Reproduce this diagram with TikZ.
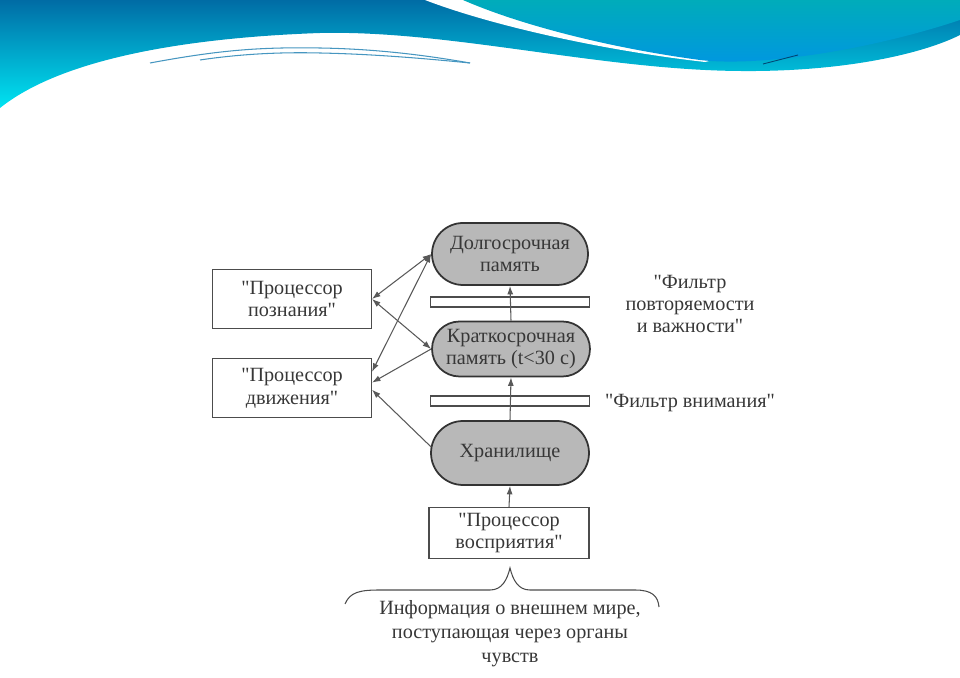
\documentclass[tikz,border=0pt]{standalone}
\usepackage{fontspec}
\setmainfont{Liberation Serif}[Ligatures=TeXOff]
\usepackage{tikz}
\usetikzlibrary{calc}
\usetikzlibrary{shapes.misc}
\usetikzlibrary{arrows.meta}
\usepackage{xcolor}

\definecolor{wavetop}{RGB}{0,108,165}
\definecolor{wavebottom}{RGB}{0,228,242}
\definecolor{blobtop}{RGB}{0,172,186}
\definecolor{blobbottom}{RGB}{0,150,226}
\definecolor{thinline}{RGB}{70,150,192}
\definecolor{ink}{RGB}{55,55,55}

\tikzset{
    memory/.style={rounded rectangle, draw=black!80, line width=1pt, fill=black!28,
        align=center, inner sep=0pt, text=ink},
    proc/.style={rectangle, draw=black!70, line width=0.6pt, align=center,
        minimum width=3.18cm, minimum height=1.18cm, inner sep=0pt, text=ink},
    filterbar/.style={rectangle, draw=black!70, line width=0.6pt,
        minimum width=3.18cm, minimum height=0.2cm, inner sep=0pt},
    link/.style={draw=black!65, line width=0.6pt},
    arr/.style={link, -{Latex[length=1.7mm,width=1.2mm]}},
    dbl/.style={link, {Latex[length=1.7mm,width=1.2mm]}-{Latex[length=1.7mm,width=1.2mm]}},
}

\begin{document}
\begin{tikzpicture}[x=0.02cm, y=-0.02cm, font=\fontsize{11.5}{13}\selectfont]
    \useasboundingbox (0,0) rectangle (960,678);

    % 1. Header waves
    \shade[top color=wavetop, bottom color=wavebottom]
        (0,0) -- (960,0) -- (960,35)
        .. controls (920,55) and (840,72) .. (740,71)
        .. controls (600,70) and (450,30) .. (320,33)
        .. controls (180,38) and (60,60) .. (0,108) -- cycle;
    \fill[white] (425,0) .. controls (490,25) and (600,50) .. (705,62) -- (960,0) -- cycle;
    \shade[top color=blobtop, bottom color=blobbottom]
        (463,0) .. controls (520,25) and (610,48) .. (700,60)
        .. controls (760,67) and (870,50) .. (960,20) -- (960,0) -- cycle;
    \draw[draw={rgb,255:red,0;green,70;blue,115}, line width=0.5pt] (763,64) -- (798,55);

    % 2. Thin decorative strokes under the wave
    \draw[thinline, line width=0.6pt] (150,63) .. controls (220,50) and (260,47) .. (320,48)
        .. controls (380,49) and (430,56) .. (470,63);
    \draw[thinline, line width=0.6pt] (200,60) .. controls (240,54) and (280,52) .. (320,53)
        .. controls (370,54) and (420,58) .. (470,63);

    % 3. Memory blocks
    \node[memory, minimum width=3.12cm, minimum height=1.24cm] (dolg) at (510,254)
        {Долгосрочная\\память};
    \node[memory, minimum width=3.16cm, minimum height=1.10cm] (krat) at (511,349)
        {Краткосрочная\\память (t<30 с)};
    \node[memory, minimum width=3.16cm, minimum height=1.28cm] (hran) at (510,453)
        {Хранилище};

    % 4. Filters
    \node[filterbar] (filtrA) at (510,302) {};
    \node[filterbar] (filtrB) at (510,401) {};
    \node[text=ink, align=center, font=\fontsize{11.5}{12.6}\selectfont] (filtrAtext) at (690,304)
        {"Фильтр\\повторяемости\\и важности"};
    \node[text=ink] (filtrBtext) at (690,403) {"Фильтр внимания"};

    % 5. Processors
    \node[proc] (pozn) at (292,299) {"Процессор\\познания"};
    \node[proc] (dvizh) at (292,388) {"Процессор\\движения"};
    \node[proc, minimum width=3.2cm, minimum height=1.02cm] (vospr) at (509,533)
        {"Процессор\\восприятия"};

    % 6. Vertical flow
    \draw[arr] (vospr.north) -- (hran.south);
    \draw[arr] (hran.north) -- (krat.south);
    \draw[arr] (krat.north) -- (dolg.south);

    % 7. Links to the processors
    \draw[dbl] (pozn.east) -- (dolg.west);
    \draw[dbl] (pozn.east) -- (krat.west);
    \draw[dbl] ($(dvizh.north east)!0.23!(dvizh.south east)$) -- (dolg.west);
    \draw[arr] (krat.west) -- ($(dvizh.north east)!0.41!(dvizh.south east)$);
    \draw[arr] ($(hran.west)+(1,-6)$) -- ($(dvizh.north east)!0.53!(dvizh.south east)$);

    % 8. Brace and the incoming information
    \draw[black!70, line width=0.6pt] (345,604) .. controls (350,592) and (360,590) .. (380,590)
        -- (490,590) .. controls (502,590) and (507,580) .. (510,568)
        .. controls (513,580) and (518,590) .. (530,590) -- (635,590)
        .. controls (652,590) and (658,596) .. (659,607);
    \node[text=ink, align=center, font=\fontsize{11.5}{13.6}\selectfont] (info) at (510,634)
        {Информация о внешнем мире,\\поступающая через органы\\чувств};
\end{tikzpicture}
\end{document}
